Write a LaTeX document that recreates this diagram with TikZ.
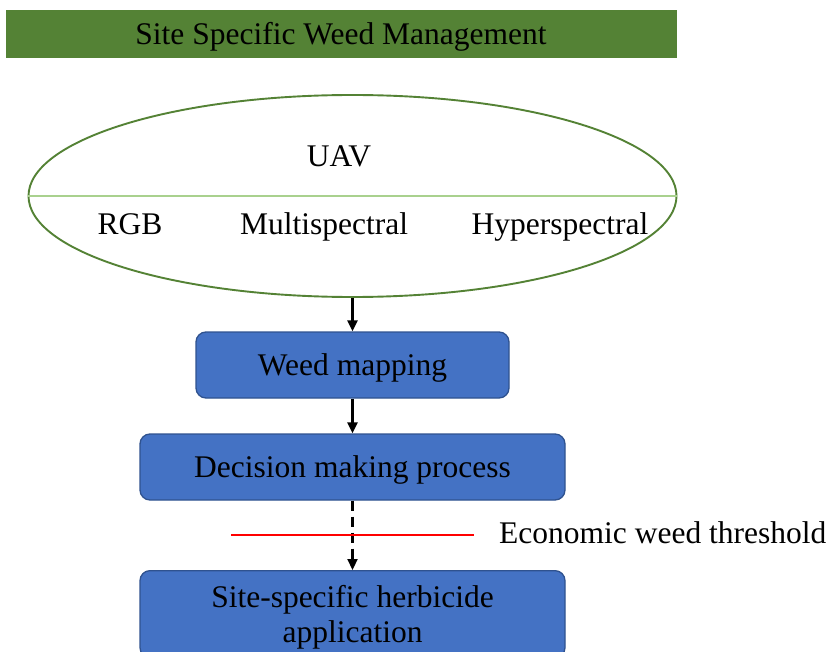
\documentclass[tikz,border=0pt]{standalone}
\usepackage{fontspec}
\setmainfont{Liberation Serif}
\usetikzlibrary{arrows.meta, shapes.geometric}

\definecolor{bannergreen}{HTML}{548235}
\definecolor{dividegreen}{HTML}{A9D18E}
\definecolor{boxblue}{HTML}{4472C4}
\definecolor{boxedge}{HTML}{2F528F}

\begin{document}
\begin{tikzpicture}[
    x=1pt, y=1pt,
    >={Triangle[length=11pt, width=10pt]}, % Arrow tip for the flow
    every node/.style={font=\fontsize{31.5}{35}\selectfont},
    box/.style={draw=boxedge, fill=boxblue, line width=1.3pt, rounded corners=10pt, inner sep=0pt, align=center, text depth=0pt}, % Blue process boxes
    flow/.style={->, line width=2.2pt} % Connectors between steps
]

% Page frame
\clip (0,0) rectangle (829,-652);

% Title banner
\node[fill=bannergreen, minimum width=671, minimum height=48, inner sep=0pt] (banner) at (341.5,-34) {};
\node[anchor=base] (title) at (341,-44.5) {Site Specific Weed Management};

% UAV platform with its sensors
\node[ellipse, draw=bannergreen, line width=1.9pt, minimum width=648, minimum height=202, inner sep=0pt] (uav) at (352.5,-196) {};
\draw[dividegreen, line width=1.3pt] (uav.west) -- (uav.east);
\node[anchor=base] (uavname) at (339,-166.5) {UAV};
\node[anchor=base] (rgb) at (130,-234.5) {RGB};
\node[anchor=base] (multi) at (324,-234.5) {Multispectral};
\node[anchor=base] (hyper) at (560,-234.5) {Hyperspectral};

% Process steps
\node[box, minimum width=313, minimum height=66] (mapping) at (352.5,-365) {Weed mapping};
\node[box, minimum width=425, minimum height=66] (decision) at (352.5,-467) {Decision making process};
\node[box, minimum width=425, minimum height=87, anchor=north] (spray) at (352.5,-570) {Site-specific herbicide\\application};

% Arrows
\draw[flow] (uav.south) -- (mapping.north);
\draw[flow] (mapping.south) -- (decision.north);
\draw[flow, dash pattern=on 10pt off 6pt] (decision.south) -- (spray.north);

% Threshold line
\coordinate (tleft) at (231,-535);
\coordinate (tright) at (474,-535);
\draw[red, line width=1.8pt] (tleft) -- (tright);
\node[anchor=base west, inner sep=0pt] (threshold) at (499,-543) {Economic weed threshold};

\end{tikzpicture}
\end{document}
